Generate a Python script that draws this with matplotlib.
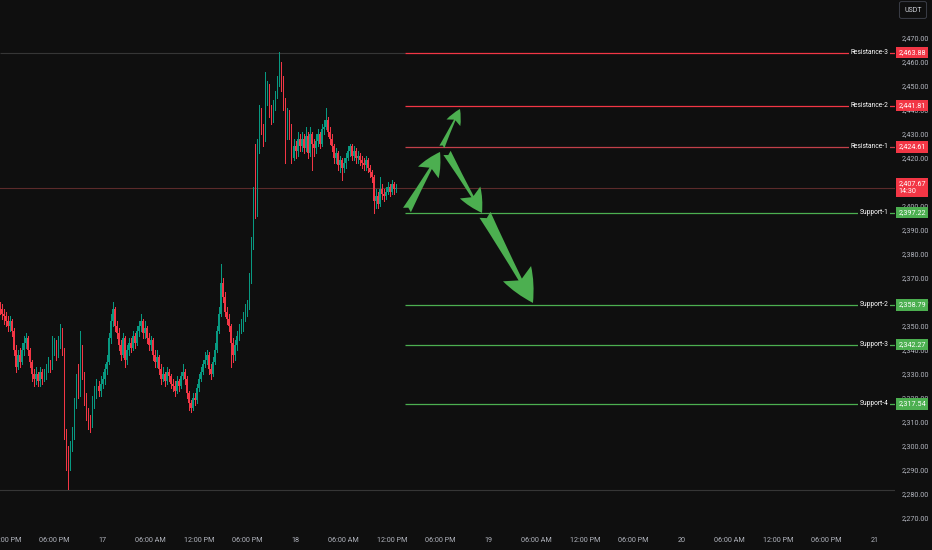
import numpy as np
import matplotlib
matplotlib.use("Agg")
import matplotlib.pyplot as plt
from matplotlib.patches import FancyArrowPatch, ArrowStyle

plt.rcParams['font.family'] = ['Roboto', 'DejaVu Sans']

# 15-minute candles, time in hours from 16th 00:00
t_first = 11.25
step = 0.25
open_first = 2358

closes = [2357, 2355, 2354, 2352, 2350, 2352, 2348, 2340, 2333, 2338,
          2335, 2340, 2343, 2345, 2340, 2335, 2330, 2328, 2330, 2327,
          2331, 2328, 2330, 2332, 2335, 2333, 2340, 2343, 2338, 2342,
          2347, 2340, 2305, 2298, 2292, 2300, 2305, 2318, 2326, 2322,
          2340, 2330, 2320, 2314, 2310, 2309, 2318, 2322, 2325, 2323,
          2326, 2328, 2332, 2335, 2345, 2352, 2357, 2350, 2347, 2342,
          2338, 2345, 2336, 2340, 2343, 2341, 2346, 2343, 2348, 2350,
          2352, 2347, 2349, 2345, 2342, 2344, 2338, 2335, 2337, 2332,
          2328, 2330, 2327, 2331, 2329, 2326, 2325, 2323, 2327, 2325,
          2329, 2331, 2328, 2322, 2318, 2316, 2320, 2319, 2324, 2328,
          2331, 2334, 2336, 2338, 2332, 2330, 2335, 2340, 2348, 2355,
          2368, 2362, 2356, 2353, 2350, 2343, 2338, 2342, 2346, 2349,
          2350, 2354, 2356, 2358, 2370, 2384, 2405, 2398, 2425, 2438,
          2432, 2428, 2444, 2450, 2440, 2436, 2442, 2446, 2452, 2458,
          2452, 2443, 2430, 2438, 2432, 2420, 2425, 2423, 2428, 2425,
          2428, 2424, 2429, 2422, 2430, 2426, 2424, 2427, 2430, 2426,
          2432, 2433, 2436, 2431, 2428, 2425, 2420, 2422, 2417, 2419,
          2416, 2418, 2420, 2423, 2425, 2421, 2423, 2420, 2421, 2419,
          2418, 2417, 2419, 2416, 2414, 2412, 2402, 2404, 2401, 2407,
          2405, 2404, 2406, 2408, 2406, 2409, 2407, 2407.67]

highs = [2360, 2359, 2357, 2356, 2354, 2354, 2353, 2349, 2342, 2340,
         2341, 2343, 2346, 2347, 2346, 2341, 2336, 2332, 2333, 2331,
         2333, 2332, 2332, 2334, 2337, 2336, 2346, 2345, 2344, 2346,
         2351, 2349, 2341, 2307, 2300, 2302, 2308, 2320, 2330, 2334,
         2348, 2342, 2331, 2322, 2316, 2313, 2321, 2325, 2328, 2327,
         2329, 2331, 2334, 2338, 2347, 2355, 2360, 2358, 2352, 2349,
         2344, 2347, 2346, 2342, 2345, 2345, 2348, 2347, 2350, 2352,
         2355, 2353, 2352, 2350, 2347, 2346, 2345, 2340, 2340, 2338,
         2334, 2333, 2331, 2333, 2332, 2330, 2328, 2327, 2329, 2328,
         2331, 2334, 2332, 2329, 2323, 2319, 2322, 2322, 2326, 2330,
         2333, 2336, 2339, 2340, 2339, 2334, 2337, 2343, 2350, 2358,
         2376, 2370, 2364, 2358, 2355, 2351, 2345, 2344, 2348, 2351,
         2353, 2356, 2359, 2361, 2372, 2387, 2408, 2426, 2428, 2442,
         2441, 2434, 2456, 2452, 2451, 2442, 2444, 2448, 2454, 2464,
         2460, 2454, 2445, 2441, 2440, 2434, 2428, 2427, 2431, 2430,
         2431, 2430, 2433, 2431, 2433, 2431, 2428, 2430, 2432, 2431,
         2434, 2436, 2441, 2437, 2433, 2430, 2426, 2424, 2423, 2421,
         2420, 2420, 2422, 2425, 2426, 2426, 2425, 2424, 2423, 2422,
         2421, 2420, 2421, 2420, 2417, 2415, 2413, 2407, 2406, 2412,
         2409, 2407, 2408, 2410, 2409, 2411, 2410, 2409]

lows = [2355, 2353, 2351, 2350, 2348, 2348, 2346, 2338, 2331, 2332,
        2333, 2334, 2338, 2341, 2338, 2333, 2327, 2325, 2326, 2325,
        2325, 2326, 2327, 2328, 2331, 2331, 2332, 2338, 2336, 2337,
        2341, 2338, 2303, 2290, 2282, 2290, 2298, 2303, 2316, 2320,
        2321, 2328, 2317, 2311, 2307, 2306, 2308, 2316, 2320, 2321,
        2321, 2324, 2326, 2330, 2334, 2343, 2350, 2348, 2345, 2340,
        2336, 2337, 2333, 2334, 2338, 2339, 2340, 2341, 2342, 2346,
        2348, 2345, 2345, 2343, 2340, 2340, 2336, 2333, 2333, 2330,
        2326, 2327, 2325, 2326, 2327, 2324, 2323, 2321, 2322, 2323,
        2324, 2328, 2326, 2320, 2315, 2314, 2315, 2317, 2318, 2323,
        2327, 2330, 2333, 2334, 2330, 2328, 2329, 2334, 2339, 2347,
        2354, 2360, 2354, 2351, 2348, 2333, 2335, 2336, 2340, 2344,
        2347, 2348, 2352, 2354, 2357, 2368, 2382, 2395, 2396, 2422,
        2430, 2425, 2427, 2442, 2437, 2434, 2435, 2440, 2445, 2450,
        2448, 2440, 2418, 2428, 2428, 2418, 2419, 2420, 2421, 2423,
        2423, 2422, 2423, 2420, 2421, 2415, 2421, 2422, 2425, 2424,
        2425, 2430, 2432, 2429, 2426, 2423, 2418, 2418, 2415, 2414,
        2411, 2414, 2416, 2419, 2421, 2419, 2419, 2418, 2418, 2417,
        2416, 2415, 2415, 2414, 2412, 2410, 2397, 2399, 2399, 2400,
        2403, 2402, 2403, 2405, 2404, 2405, 2405, 2406]

last_price = 2407.67
countdown = "14:30"
day_high = 2463.88
day_low = 2281.5

level_names = ["Resistance-3", "Resistance-2", "Resistance-1",
               "Support-1", "Support-2", "Support-3", "Support-4"]
level_values = [2463.88, 2441.81, 2424.61, 2397.22, 2358.79, 2342.27, 2317.54]
level_start = 61.6

# arrows: start and tip as (time, price); head length, head width, tail width in points
arrow_starts = [(61.86, 2398.3), (66.2, 2424.6), (66.84, 2422.1), (71.56, 2396.3)]
arrow_tips = [(65.97, 2422.5), (68.45, 2440.4), (71.19, 2397.1), (77.53, 2359.6)]
arrow_sizes = [(17, 17, 6.5), (11, 11, 4.0), (17, 17, 6.0), (24, 23, 9.0)]

tick_hours = list(range(12, 121, 6))
tick_labels = ["12:00 PM", "06:00 PM", "17", "06:00 AM", "12:00 PM", "06:00 PM",
               "18", "06:00 AM", "12:00 PM", "06:00 PM", "19", "06:00 AM",
               "12:00 PM", "06:00 PM", "20", "06:00 AM", "12:00 PM", "06:00 PM", "21"]

bg = "#0f0f0f"
up_col = "#089981"
down_col = "#f23645"
txt_col = "#b2b5be"
res_cols = ["#f23645", "#f23645", "#c2404a"]
sup_col = "#4caf50"

fig = plt.figure(figsize=(9.32, 5.5), dpi=100, facecolor=bg)
ax = fig.add_axes([0, 20 / 550, 895 / 932, 530 / 550])
ax.set_facecolor(bg)
ax.set_xlim(11.25, 122.55)
ax.set_ylim(2265.0, 2485.8)

# reference lines
ax.axhline(day_low, color="#363636", lw=0.8, zorder=1)
ax.hlines(day_high, 11.25, level_start, color="#363636", lw=0.8, zorder=1)
ax.axhline(last_price, color="#5c2b2b", lw=0.8, zorder=1)

# candles
c = np.array(closes, dtype=float)
o = np.concatenate([[open_first], c[:-1]])
h = np.maximum(np.array(highs, dtype=float), np.maximum(o, c))
l = np.minimum(np.array(lows, dtype=float), np.minimum(o, c))
t = t_first + step * np.arange(len(c))
cols = np.where(c >= o, up_col, down_col)
ax.vlines(t, l, h, colors=cols, lw=0.7, zorder=3, antialiased=False)
body_lo = np.minimum(o, c)
body_h = np.maximum(np.abs(c - o), 0.5)
ax.bar(t, body_h, bottom=body_lo, width=0.18, color=cols, linewidth=0,
       zorder=4, antialiased=False)

# support / resistance levels
ytr = ax.get_yaxis_transform()
for i, (name, val) in enumerate(zip(level_names, level_values)):
    col = res_cols[i] if name.startswith("Res") else sup_col
    ax.hlines(val, level_start, 122.55, color=col, lw=0.9, zorder=2)
    ax.text(0.993, val, name, transform=ytr, ha="right", va="center",
            fontsize=4.8, color="white", zorder=5,
            bbox=dict(boxstyle="square,pad=0.25", fc=bg, ec="none"))
    box_col = "#f23645" if name.startswith("Res") else sup_col
    ax.text(1.004, val, f"{val:,.2f}", transform=ytr, ha="left", va="center",
            fontsize=5.2, color="white", clip_on=False, zorder=6,
            bbox=dict(boxstyle="square,pad=0.3", fc=box_col, ec="none"))

ax.text(1.004, last_price, f"{last_price:,.2f}\n{countdown}", transform=ytr,
        ha="left", va="center", fontsize=5.2, color="white", clip_on=False,
        linespacing=1.3, zorder=6,
        bbox=dict(boxstyle="square,pad=0.3", fc="#f23645", ec="none"))

# arrows
for (x0, y0), (x1, y1), (hl, hw, tw) in zip(arrow_starts, arrow_tips, arrow_sizes):
    arr = FancyArrowPatch((x0, y0), (x1, y1),
                          arrowstyle=ArrowStyle.Fancy(head_length=hl, head_width=hw, tail_width=tw),
                          mutation_scale=1, shrinkA=0, shrinkB=0,
                          color=sup_col, lw=0, zorder=7)
    ax.add_patch(arr)

# axes styling
for s in ax.spines.values():
    s.set_visible(False)
ax.set_xticks(tick_hours)
ax.set_xticklabels(tick_labels)
ax.yaxis.tick_right()
ax.set_yticks(np.arange(2270, 2471, 10))
ax.set_yticklabels([f"{v:,.2f}" for v in np.arange(2270, 2471, 10)])
ax.tick_params(axis="x", length=0, pad=5, labelsize=5.2, labelcolor=txt_col)
ax.tick_params(axis="y", length=0, pad=5, labelsize=5.2, labelcolor=txt_col)

fig.text(913 / 932, 1 - 10 / 550, "USDT", ha="center", va="center", fontsize=5,
         color="#d1d4dc",
         bbox=dict(boxstyle="round,pad=0.7,rounding_size=0.3", fc=bg, ec="#434651", lw=0.6))

fig.savefig("out.png", dpi=100, facecolor=bg)
